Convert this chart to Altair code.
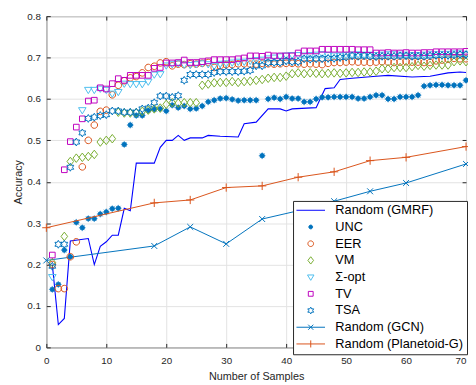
import math
import altair as alt
import pandas as pd

# ---------------- data ----------------
NAMES = ["Random (GMRF)", "UNC", "EER", "VM", "Σ-opt", "TV", "TSA",
         "Random (GCN)", "Random (Planetoid-G)"]
COLORS = ["#0000FF", "#0072BD", "#D95319", "#77AC30", "#4DBEEE", "#BF00BF",
          "#0072BD", "#0072BD", "#D95319"]

GMRF_X = [1, 2, 3, 4, 7, 8, 9, 10, 11, 12, 13, 14, 15, 18, 19, 20, 21, 22, 23, 24,
          26, 27, 29, 32, 33, 35, 37, 39, 40, 41, 45, 46.5, 48, 49, 51, 55, 57, 61,
          64, 67, 69, 70]
GMRF_Y = [0.200, 0.055, 0.070, 0.257, 0.263, 0.200, 0.244, 0.255, 0.271, 0.271,
          0.336, 0.330, 0.445, 0.445, 0.483, 0.500, 0.500, 0.512, 0.500, 0.506,
          0.506, 0.512, 0.510, 0.508, 0.540, 0.544, 0.576, 0.576, 0.571, 0.576,
          0.579, 0.625, 0.627, 0.647, 0.650, 0.655, 0.657, 0.653, 0.655, 0.663,
          0.665, 0.664]

UNC_X = list(range(1, 71))
UNC_Y = [0.140, 0.152, 0.235, 0.219, 0.302, 0.289, 0.311, 0.311, 0.322, 0.327,
         0.335, 0.336, 0.490, 0.537, 0.560, 0.560, 0.572, 0.575, 0.576, 0.571,
         0.585, 0.579, 0.583, 0.576, 0.577, 0.583, 0.593, 0.597, 0.601, 0.602,
         0.599, 0.596, 0.597, 0.597, 0.597, 0.463, 0.600, 0.603, 0.600, 0.605,
         0.601, 0.601, 0.593, 0.593, 0.600, 0.604, 0.604, 0.605, 0.605, 0.605,
         0.605, 0.601, 0.601, 0.605, 0.609, 0.609, 0.600, 0.600, 0.605, 0.605,
         0.605, 0.609, 0.631, 0.633, 0.634, 0.634, 0.633, 0.633, 0.633, 0.645]

EER_X = list(range(1, 71))
EER_Y = [0.200, 0.142, 0.142, 0.219, 0.255, 0.436, 0.500, 0.537, 0.570, 0.573,
         0.610, 0.633, 0.644, 0.651, 0.654, 0.663, 0.676, 0.679, 0.687, 0.690,
         0.680, 0.684, 0.683, 0.685, 0.684, 0.686, 0.688, 0.676, 0.680, 0.683,
         0.683, 0.685, 0.685, 0.684, 0.684, 0.686, 0.685, 0.684, 0.685, 0.686,
         0.686, 0.685, 0.684, 0.685, 0.684, 0.683, 0.686, 0.688, 0.688, 0.689,
         0.690, 0.689, 0.689, 0.688, 0.689, 0.690, 0.689, 0.688, 0.689, 0.690,
         0.689, 0.689, 0.688, 0.688, 0.692, 0.694, 0.696, 0.698, 0.697, 0.697]

VM_X = [1] + list(range(3, 71))
VM_Y = [0.205,
        0.268, 0.449, 0.457, 0.459, 0.461, 0.466, 0.496, 0.500, 0.504, 0.568,
        0.566, 0.566, 0.567, 0.570, 0.573, 0.576, 0.578, 0.587, 0.591, 0.590,
        0.591, 0.591, 0.591, 0.633, 0.636, 0.639, 0.640, 0.640, 0.642, 0.640,
        0.642, 0.643, 0.645, 0.647, 0.650, 0.652, 0.652, 0.655, 0.661, 0.663,
        0.661, 0.663, 0.662, 0.661, 0.662, 0.663, 0.662, 0.663, 0.664, 0.664,
        0.665, 0.665, 0.667, 0.673, 0.673, 0.676, 0.676, 0.676, 0.678, 0.681,
        0.679, 0.681, 0.682, 0.682, 0.682, 0.690, 0.692, 0.690]

SIG_X = [1] + list(range(6, 71))
SIG_Y = [0.170,
         0.573, 0.622, 0.622, 0.625, 0.622, 0.613, 0.617, 0.637, 0.636, 0.636,
         0.636, 0.642, 0.659, 0.660, 0.681, 0.684, 0.686, 0.683, 0.682, 0.684,
         0.686, 0.684, 0.680, 0.685, 0.686, 0.688, 0.690, 0.690, 0.692, 0.694,
         0.695, 0.698, 0.700, 0.703, 0.705, 0.706, 0.706, 0.705, 0.706, 0.707,
         0.708, 0.706, 0.705, 0.705, 0.706, 0.707, 0.708, 0.707, 0.707, 0.706,
         0.707, 0.708, 0.708, 0.707, 0.707, 0.706, 0.706, 0.707, 0.708, 0.708,
         0.709, 0.709, 0.710, 0.710, 0.709]

TV_X = [1] + list(range(3, 71))
TV_Y = [0.223,
        0.429, 0.497, 0.532, 0.552, 0.595, 0.597, 0.627, 0.624, 0.637, 0.649,
        0.645, 0.657, 0.657, 0.657, 0.657, 0.674, 0.676, 0.687, 0.687, 0.688,
        0.694, 0.688, 0.688, 0.690, 0.692, 0.695, 0.695, 0.695, 0.695, 0.697,
        0.699, 0.704, 0.704, 0.703, 0.706, 0.704, 0.704, 0.704, 0.704, 0.711,
        0.716, 0.716, 0.716, 0.720, 0.720, 0.720, 0.720, 0.720, 0.720, 0.719,
        0.719, 0.719, 0.711, 0.711, 0.712, 0.711, 0.711, 0.712, 0.711, 0.711,
        0.712, 0.712, 0.714, 0.714, 0.714, 0.714, 0.714, 0.715]

TSA_X = list(range(1, 71))
TSA_Y = [0.196, 0.249, 0.249, 0.435, 0.496, 0.518, 0.553, 0.556, 0.560, 0.562,
         0.571, 0.571, 0.568, 0.568, 0.568, 0.576, 0.578, 0.591, 0.607, 0.607,
         0.604, 0.608, 0.645, 0.659, 0.659, 0.659, 0.659, 0.664, 0.666, 0.666,
         0.666, 0.666, 0.667, 0.669, 0.680, 0.680, 0.688, 0.688, 0.688, 0.692,
         0.690, 0.690, 0.697, 0.696, 0.697, 0.697, 0.698, 0.698, 0.700, 0.701,
         0.704, 0.703, 0.704, 0.703, 0.702, 0.703, 0.703, 0.703, 0.704, 0.704,
         0.703, 0.703, 0.703, 0.704, 0.705, 0.705, 0.705, 0.706, 0.707, 0.707]

GCN_X = [0, 18, 24, 30, 36, 42, 48, 54, 60, 70]
GCN_Y = [0.210, 0.245, 0.291, 0.250, 0.310, 0.330, 0.353, 0.377, 0.397, 0.443]

PLN_X = [0, 18, 24, 30, 36, 42, 48, 54, 60, 70]
PLN_Y = [0.289, 0.349, 0.356, 0.386, 0.390, 0.411, 0.424, 0.451, 0.459, 0.485]

X_TICKS = [0, 10, 20, 30, 40, 50, 60, 70]
Y_TICKS = [0, 0.1, 0.2, 0.3, 0.4, 0.5, 0.6, 0.7, 0.8]

# ---------------- marker shapes (unit paths) ----------------
def circle_path(r):
    return f"M{r},0A{r},{r},0,1,1,{-r},0A{r},{r},0,1,1,{r},0Z"

def hexagram_path(R):
    pts = []
    for k in range(12):
        a = math.radians(-90 + 30 * k)
        r = R if k % 2 == 0 else R / math.sqrt(3)
        pts.append((r * math.cos(a), r * math.sin(a)))
    return "M" + "L".join(f"{x:.4f},{y:.4f}" for x, y in pts) + "Z"

# data unit = 7 px (size 196), legend unit = 6 px (size 144)
S = 196
LEG_S = 144
CIRCLE = circle_path(0.48)
DOT = circle_path(0.32)
DIAMOND = "M0,-0.62L0.48,0L0,0.62L-0.48,0Z"
TRI_DOWN = "M-0.55,-0.36L0.55,-0.36L0,0.55Z"
SQUARE = "M-0.41,-0.41L0.41,-0.41L0.41,0.41L-0.41,0.41Z"
HEXAGRAM = hexagram_path(0.57)
XMARK = "M-0.43,-0.43L0.43,0.43M-0.43,0.43L0.43,-0.43"
PLUS = "M-0.6,0L0.6,0M0,-0.6L0,0.6"
ASTER = ("M-0.5,0L0.5,0M0,-0.5L0,0.5"
         "M-0.36,-0.36L0.36,0.36M-0.36,0.36L0.36,-0.36")
LINE = "M-2.42,0L2.42,0"
SHAPES = [LINE, DOT, CIRCLE, DIAMOND, TRI_DOWN, SQUARE, HEXAGRAM,
          LINE + XMARK, LINE + "M0,-0.6L0,0.6"]
FILLS = ["transparent", "#0072BD"] + ["transparent"] * 7

# ---------------- tables ----------------
def frame(name, xs, ys):
    assert len(xs) == len(ys), name
    return pd.DataFrame({"series": name, "x": xs, "y": ys})

scatter = pd.concat([
    frame("UNC", UNC_X, UNC_Y),
    frame("EER", EER_X, EER_Y),
    frame("VM", VM_X, VM_Y),
    frame("Σ-opt", SIG_X, SIG_Y),
    frame("TV", TV_X, TV_Y),
    frame("TSA", TSA_X, TSA_Y),
], ignore_index=True)
gmrf = frame("Random (GMRF)", GMRF_X, GMRF_Y)
gcn = frame("Random (GCN)", GCN_X, GCN_Y)
pln = frame("Random (Planetoid-G)", PLN_X, PLN_Y)
unc = frame("UNC", UNC_X, UNC_Y)

# ---------------- styling ----------------
FONT = "Liberation Sans"
INK = "#262626"
T = 4

xs = alt.Scale(domain=[0, 70], nice=False, zero=False)
ys = alt.Scale(domain=[0, 0.8], nice=False, zero=False)

ax_x_main = alt.Axis(orient="bottom", offset=-T, values=X_TICKS, tickSize=T,
                     tickColor=INK, domain=False, grid=False, labelFlush=False,
                     labelOverlap=False, labelFont=FONT, labelFontSize=10,
                     labelColor=INK, labelPadding=8,
                     labelAlign={"condition": {"test": "datum.value == 70",
                                               "value": "right"},
                                 "value": "center"},
                     title="Number of Samples",
                     titleFont=FONT, titleFontSize=11, titleFontWeight="normal",
                     titleColor=INK, titlePadding=6)
ax_y_main = alt.Axis(orient="left", offset=-T, values=Y_TICKS, tickSize=T,
                     tickColor=INK, domain=False, grid=False, labelFlush=False,
                     labelOverlap=False, labelFont=FONT, labelFontSize=10,
                     labelColor=INK, labelPadding=6,
                     labelExpr="datum.value == 0 ? '0' : format(datum.value, '.1f')",
                     title="Accuracy", titleFont=FONT, titleFontSize=11,
                     titleFontWeight="normal", titleColor=INK, titlePadding=3)
ax_x_top = alt.Axis(orient="top", offset=-T, values=X_TICKS, tickSize=T,
                    tickColor=INK, domain=False, grid=False, labels=False, title=None)
ax_y_right = alt.Axis(orient="right", offset=-T, values=Y_TICKS, tickSize=T,
                      tickColor=INK, domain=False, grid=False, labels=False, title=None)
ax_x_grid = alt.Axis(orient="bottom", values=X_TICKS, ticks=False, labels=False,
                     domain=False, grid=True, gridColor="#e2e2e2", title=None)
ax_y_grid = alt.Axis(orient="left", values=Y_TICKS, ticks=False, labels=False,
                     domain=False, grid=True, gridColor="#e2e2e2", title=None)

gmrf_line = alt.Chart(gmrf).mark_line(strokeWidth=1.1, stroke=COLORS[0]).encode(
    x=alt.X("x:Q", scale=xs, axis=ax_x_main),
    y=alt.Y("y:Q", scale=ys, axis=ax_y_main),
)

gcn_line = alt.Chart(gcn).mark_line(strokeWidth=1, stroke=COLORS[7]).encode(
    x=alt.X("x:Q", scale=xs, axis=ax_x_top),
    y=alt.Y("y:Q", scale=ys, axis=ax_y_right),
)

leg = alt.Legend(title=None, orient="none", legendX=251, legendY=188,
                 padding=3, rowPadding=3, symbolSize=LEG_S, symbolStrokeWidth=1,
                 symbolOpacity=1, symbolOffset=8.5, labelFont=FONT,
                 labelFontSize=13, labelColor="black", labelOffset=18.5,
                 strokeColor=INK, fillColor="white", cornerRadius=0)
points = alt.Chart(scatter).mark_point(filled=False, opacity=1, strokeWidth=1, size=S).encode(
    x=alt.X("x:Q", scale=xs, axis=ax_x_grid),
    y=alt.Y("y:Q", scale=ys, axis=ax_y_grid),
    stroke=alt.Stroke("series:N", scale=alt.Scale(domain=NAMES, range=COLORS), legend=leg),
    fill=alt.Fill("series:N", scale=alt.Scale(domain=NAMES, range=FILLS), legend=leg),
    shape=alt.Shape("series:N", scale=alt.Scale(domain=NAMES, range=SHAPES), legend=leg),
)

unc_rays = alt.Chart(unc).mark_point(shape=ASTER, filled=False, opacity=1, size=S,
                                     stroke="#0072BD", strokeOpacity=0.55,
                                     strokeWidth=1).encode(
    x=alt.X("x:Q", scale=xs, axis=None),
    y=alt.Y("y:Q", scale=ys, axis=None),
)

gcn_marks = alt.Chart(gcn).mark_point(shape=XMARK, filled=False, opacity=1, size=S,
                                      stroke=COLORS[7], strokeWidth=1).encode(
    x=alt.X("x:Q", scale=xs, axis=None),
    y=alt.Y("y:Q", scale=ys, axis=None),
)

pln_line = alt.Chart(pln).mark_line(strokeWidth=1, stroke=COLORS[8]).encode(
    x=alt.X("x:Q", scale=xs, axis=None),
    y=alt.Y("y:Q", scale=ys, axis=None),
)
pln_marks = alt.Chart(pln).mark_point(shape=PLUS, filled=False, opacity=1, size=S,
                                      stroke=COLORS[8], strokeWidth=1).encode(
    x=alt.X("x:Q", scale=xs, axis=None),
    y=alt.Y("y:Q", scale=ys, axis=None),
)

chart = alt.layer(
    gmrf_line, gcn_line, unc_rays, points, gcn_marks, pln_line, pln_marks
).resolve_axis(
    x="independent", y="independent"
).properties(
    width=427, height=337,
    autosize=alt.AutoSizeParams(type="none"),
    padding={"left": 39, "top": 5, "right": 2, "bottom": 36},
).configure_view(
    stroke=INK, strokeWidth=1
)

chart.save("out.html", embed_options={"renderer": "svg", "actions": False})
